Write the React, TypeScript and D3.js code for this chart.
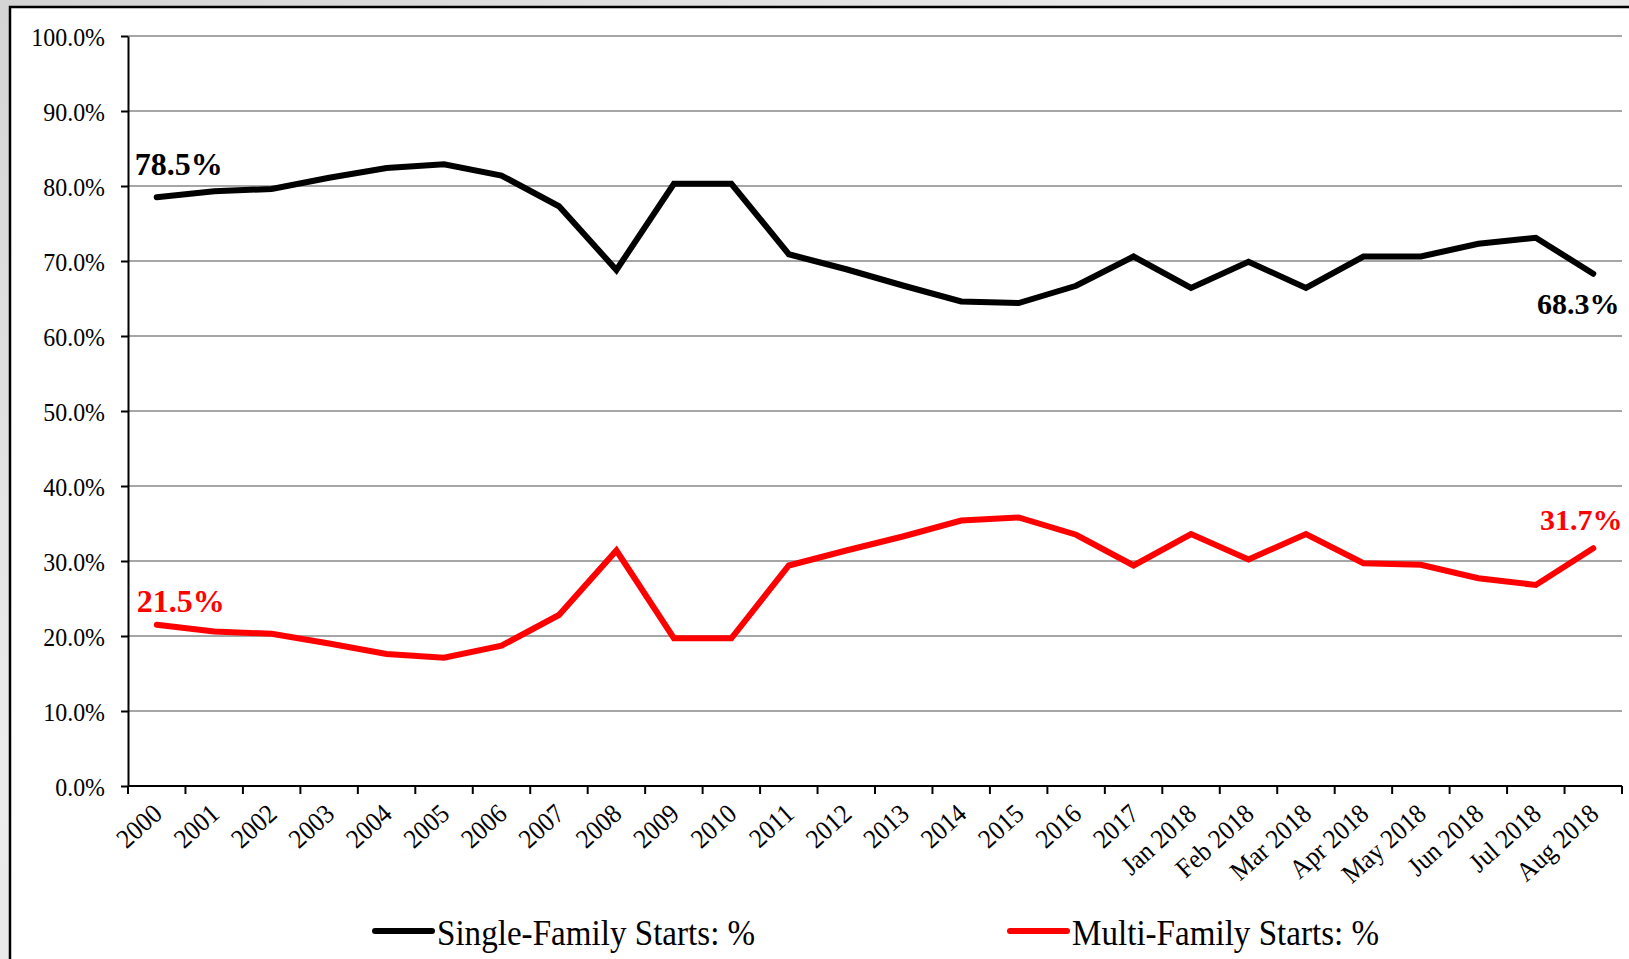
import React, { useRef, useEffect } from "react";
import * as d3 from "d3";

const categories = [
    "2000", "2001", "2002", "2003", "2004", "2005", "2006", "2007", "2008",
    "2009", "2010", "2011", "2012", "2013", "2014", "2015", "2016", "2017",
    "Jan 2018", "Feb 2018", "Mar 2018", "Apr 2018", "May 2018", "Jun 2018",
    "Jul 2018", "Aug 2018",
];

const singleFamily = [
    78.5, 79.3, 79.6, 81.1, 82.4, 82.9, 81.4, 77.3, 68.8, 80.3, 80.3, 70.9,
    68.9, 66.7, 64.6, 64.4, 66.7, 70.6, 66.4, 69.9, 66.4, 70.6, 70.6, 72.3,
    73.1, 68.3,
];

const multiFamily = [
    21.5, 20.6, 20.3, 19.0, 17.6, 17.1, 18.7, 22.8, 31.4, 19.7, 19.7, 29.4,
    31.4, 33.3, 35.4, 35.8, 33.5, 29.4, 33.6, 30.2, 33.6, 29.7, 29.5, 27.7,
    26.8, 31.7,
];

const yTicks = [0, 10, 20, 30, 40, 50, 60, 70, 80, 90, 100];

const seriesNames = ["Single-Family Starts: %", "Multi-Family Starts: %"];
const seriesColors = ["#000000", "#ff0000"];

const W = 1629;
const H = 959;
const FONT = "'Liberation Serif', 'Times New Roman', serif";

const App = () => {
    const svgRef = useRef<SVGSVGElement>(null);

    useEffect(() => {
        const svg = d3.select(svgRef.current);
        svg.selectAll("*").remove();

        const left = 128;
        const right = 1622;
        const top = 36;
        const bottom = 786;

        const x = d3.scaleBand().domain(categories).range([left, right]).padding(0);
        const y = d3.scaleLinear().domain([0, 100]).range([bottom, top]);
        const bw = x.bandwidth();
        const cx = (c: string) => (x(c) as number) + bw / 2;

        // grey backdrop outside the chart frame
        const defs = svg.append("defs");
        const grad = defs
            .append("linearGradient")
            .attr("id", "bg")
            .attr("x1", 0)
            .attr("y1", 0)
            .attr("x2", 1)
            .attr("y2", 1);
        grad.append("stop").attr("offset", "0%").attr("stop-color", "#d4d4d4");
        grad.append("stop").attr("offset", "40%").attr("stop-color", "#ececec");
        grad.append("stop").attr("offset", "100%").attr("stop-color", "#dcdcdc");

        svg.append("rect").attr("width", W).attr("height", H).attr("fill", "url(#bg)");
        svg.append("rect")
            .attr("x", 10)
            .attr("y", 7)
            .attr("width", W - 10)
            .attr("height", H - 7)
            .attr("fill", "#ffffff");
        svg.append("path")
            .attr("d", `M10,${H} L10,7 L${W},7`)
            .attr("fill", "none")
            .attr("stroke", "#000")
            .attr("stroke-width", 2.5);

        // gridlines
        svg.append("g")
            .selectAll("line")
            .data(yTicks.filter((t) => t > 0))
            .enter()
            .append("line")
            .attr("x1", left)
            .attr("x2", right)
            .attr("y1", (d) => y(d))
            .attr("y2", (d) => y(d))
            .attr("stroke", "#a6a6a6")
            .attr("stroke-width", 2);

        // y axis
        const yAxis = svg
            .append("g")
            .attr("transform", `translate(${left},0)`)
            .call(
                d3
                    .axisLeft(y)
                    .tickValues(yTicks)
                    .tickSize(7)
                    .tickSizeOuter(0)
                    .tickFormat((d) => `${(+d).toFixed(1)}%`)
            );
        yAxis.select(".domain").attr("stroke", "#000").attr("stroke-width", 2);
        yAxis.selectAll(".tick line").attr("stroke", "#000").attr("stroke-width", 2);
        yAxis
            .selectAll(".tick text")
            .attr("x", -23 / 0.92)
            .attr("transform", "scale(0.92,1)")
            .attr("dy", "0.35em")
            .attr("fill", "#000")
            .style("font-family", FONT)
            .style("font-size", "26px");

        // x axis
        svg.append("line")
            .attr("x1", left)
            .attr("x2", right)
            .attr("y1", bottom)
            .attr("y2", bottom)
            .attr("stroke", "#000")
            .attr("stroke-width", 2);
        const bounds = [...categories.map((c) => x(c) as number), right];
        svg.append("g")
            .selectAll("line")
            .data(bounds)
            .enter()
            .append("line")
            .attr("x1", (d) => d)
            .attr("x2", (d) => d)
            .attr("y1", bottom)
            .attr("y2", bottom + 8)
            .attr("stroke", "#000")
            .attr("stroke-width", 2);

        svg.append("g")
            .selectAll("text")
            .data(categories)
            .enter()
            .append("text")
            .attr("transform", (d) => `translate(${cx(d) + 7},816) rotate(-42) scale(0.93,1)`)
            .attr("text-anchor", "end")
            .attr("fill", "#000")
            .style("font-family", FONT)
            .style("font-size", "27px")
            .text((d) => d);

        // lines
        const line = d3
            .line<number>()
            .x((d, i) => cx(categories[i]))
            .y((d) => y(d));

        [singleFamily, multiFamily].forEach((vals, k) => {
            svg.append("path")
                .datum(vals)
                .attr("d", line)
                .attr("fill", "none")
                .attr("stroke", seriesColors[k])
                .attr("stroke-width", 6)
                .attr("stroke-linecap", "round")
                .attr("stroke-linejoin", "miter");
        });

        // end labels
        const last = categories.length - 1;
        const labels = [
            { v: singleFamily[0], i: 0, dx: -22, dy: -22, anchor: "start", color: seriesColors[0], size: 32 },
            { v: multiFamily[0], i: 0, dx: -20, dy: -13, anchor: "start", color: seriesColors[1], size: 32 },
            { v: singleFamily[last], i: last, dx: -15, dy: 40, anchor: "middle", color: seriesColors[0], size: 30 },
            { v: multiFamily[last], i: last, dx: -12, dy: -18, anchor: "middle", color: seriesColors[1], size: 30 },
        ];
        svg.append("g")
            .selectAll("text")
            .data(labels)
            .enter()
            .append("text")
            .attr("x", (d) => cx(categories[d.i]) + d.dx)
            .attr("y", (d) => y(d.v) + d.dy)
            .attr("text-anchor", (d) => d.anchor)
            .attr("fill", (d) => d.color)
            .style("font-family", FONT)
            .style("font-weight", "bold")
            .style("font-size", (d) => `${d.size}px`)
            .text((d) => `${d.v.toFixed(1)}%`);

        // legend
        const legendX = [375, 1010];
        seriesNames.forEach((name, k) => {
            const g = svg.append("g").attr("transform", `translate(${legendX[k]},931)`);
            g.append("line")
                .attr("x1", 0)
                .attr("x2", 57)
                .attr("stroke", seriesColors[k])
                .attr("stroke-width", 6)
                .attr("stroke-linecap", "round");
            g.append("text")
                .attr("transform", "translate(62,14) scale(0.92,1)")
                .attr("fill", "#000")
                .style("font-family", FONT)
                .style("font-size", "36px")
                .text(name);
        });
    }, []);

    return (
        <div style={{ position: "fixed", left: 0, top: 0 }}>
            <svg ref={svgRef} width={W} height={H} style={{ display: "block" }} />
        </div>
    );
};

export default App;
